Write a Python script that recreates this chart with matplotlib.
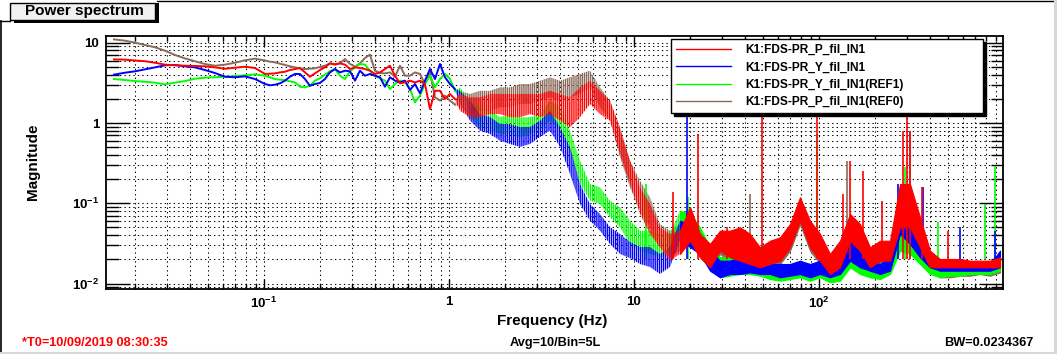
import matplotlib
matplotlib.use("Agg")
import matplotlib.pyplot as plt
from matplotlib.patches import Rectangle
from matplotlib.lines import Line2D
from matplotlib.ticker import FixedLocator, FixedFormatter, LogLocator, NullFormatter

plt.rcParams['font.family'] = ['Liberation Sans', 'DejaVu Sans']
plt.rcParams['font.weight'] = 'bold'
plt.rcParams['mathtext.fontset'] = 'custom'
plt.rcParams['mathtext.rm'] = 'Liberation Sans:bold'
plt.rcParams['mathtext.bf'] = 'Liberation Sans:bold'
plt.rcParams['mathtext.it'] = 'Liberation Sans:bold'
plt.rcParams['hatch.linewidth'] = 1.0

# ---------------- data ----------------
labels = ["K1:FDS-PR_P_fil_IN1", "K1:FDS-PR_Y_fil_IN1",
          "K1:FDS-PR_Y_fil_IN1(REF1)", "K1:FDS-PR_P_fil_IN1(REF0)"]
colors = ["#ff0000", "#0000ff", "#00ff00", "#8a6a5a"]

# low-frequency part (single traces)
freq_lf = [0.01546, 0.01772, 0.02008, 0.02274, 0.02575, 0.02917, 0.03303, 0.03741, 0.04237,
           0.04799, 0.05435, 0.06155, 0.06971, 0.07895, 0.0894, 0.1013, 0.1078, 0.1147, 0.1221,
           0.1299, 0.1382, 0.1471, 0.1565, 0.1666, 0.1772, 0.1886, 0.2007, 0.2136, 0.2274,
           0.2419, 0.2575, 0.2741, 0.2917, 0.3104, 0.3303, 0.3515, 0.3741, 0.3981, 0.4237,
           0.4508, 0.4798, 0.5106, 0.5434, 0.5782, 0.6154, 0.6549, 0.6969, 0.7416, 0.7896,
           0.8401, 0.8941, 0.9514, 1.0125, 1.0775]
red_lf = [6.2, 6.15, 6.0, 5.88, 5.63, 5.33, 5.23, 5.17, 5.13, 5.08, 4.93, 4.74, 4.88, 5.03, 4.84,
          4.08, 4.11, 4.15, 4.27, 4.35, 4.57, 4.7, 4.84, 4.27, 3.77, 4.15, 4.57, 4.93, 5.53, 5.33,
          5.53, 5.33, 4.7, 4.93, 4.84, 4.7, 4.48, 4.08, 4.27, 4.7, 5.17, 3.88, 3.12, 3.2, 3.37,
          3.2, 3.37, 3.06, 1.49, 2.52, 2.52, 1.99, 2.3, 1.99]
blue_lf = [4.0, 4.23, 4.4, 4.66, 4.93, 5.23, 5.28, 5.08, 4.93, 4.57, 4.19, 3.77, 3.71, 3.81, 3.53,
           3.06, 2.95, 3.0, 3.12, 3.37, 3.77, 4.08, 4.08, 3.53, 2.91, 3.06, 3.15, 3.53, 4.27, 4.7,
           4.27, 4.48, 4.4, 3.37, 4.48, 3.88, 4.08, 3.88, 3.71, 2.83, 3.71, 3.37, 3.2, 3.37, 2.58,
           3.06, 2.34, 3.37, 4.7, 3.53, 5.43, 3.71, 3.06, 2.65]
green_lf = [3.53, 3.43, 3.33, 3.26, 3.18, 3.03, 3.18, 3.33, 3.56, 3.67, 3.71, 3.77, 3.85, 3.93, 4.04,
            3.88, 3.71, 3.53, 3.46, 3.43, 3.3, 3.2, 2.83, 2.78, 2.91, 3.37, 3.6, 4.0, 4.4, 4.7,
            3.88, 3.53, 4.4, 4.93, 5.43, 5.33, 4.48, 3.88, 3.6, 3.37, 2.65, 3.06, 3.37, 3.3, 2.65,
            1.81, 2.19, 3.06, 3.88, 2.78, 3.53, 4.08, 3.53, 2.52]
brown_lf = [11.0, 10.6, 10.0, 9.36, 8.77, 7.95, 7.03, 6.38, 5.87, 5.43, 5.17, 5.33, 5.63, 6.04, 6.33,
            6.0, 5.8, 5.7, 5.47, 5.28, 5.08, 4.93, 4.8, 4.7, 4.74, 4.8, 4.98, 5.17, 5.53, 5.43,
            5.53, 6.27, 5.43, 5.03, 5.53, 6.45, 7.1, 4.48, 4.19, 4.15, 4.27, 3.77, 5.17, 3.88, 3.88,
            4.27, 4.08, 3.06, 4.27, 2.09, 1.9, 2.19, 1.9, 1.69]

# high-frequency part (noise band: lower / upper envelope)
freq_hf = [1.0775, 1.147, 1.299, 1.471, 1.666, 1.887, 2.137, 2.42, 2.741, 3.104, 3.516, 3.981,
           4.509, 5.107, 5.783, 6.55, 7.418, 8.401, 9.515, 10.78, 12.2, 13.82, 15.65, 17.73,
           20.08, 22.74, 25.75, 29.16, 33.03, 37.41, 42.37, 47.98, 54.34, 61.54, 69.7, 78.94,
           89.41, 101.3, 114.7, 129.9, 147.1, 166.6, 188.7, 213.7, 242.0, 274.1, 310.4, 351.6,
           398.1, 450.9, 510.7, 578.3, 655.0, 741.8, 840.1, 951.5]
red_hi = [1.99, 2.30, 2.09, 2.09, 2.30, 2.30, 2.30, 2.30, 2.30, 2.30, 2.52, 2.30, 2.09, 2.78, 3.36,
          2.52, 1.90, 0.884, 0.339, 0.158, 0.098, 0.0502, 0.0415, 0.0456, 0.0892, 0.0415, 0.0311,
          0.0456, 0.0456, 0.0502, 0.0415, 0.0283, 0.0342, 0.0377, 0.0552, 0.1188, 0.0607, 0.0415,
          0.0234, 0.0342, 0.0736, 0.0552, 0.0283, 0.0342, 0.0342, 0.174, 0.174, 0.067, 0.0257,
          0.02025, 0.02025, 0.02025, 0.0193, 0.0193, 0.0193, 0.02126]
red_lo = [1.99, 1.42, 1.18, 1.18, 1.29, 1.29, 1.18, 1.18, 1.29, 1.18, 1.29, 1.07, 0.884, 1.18, 1.72,
          1.29, 1.07, 0.411, 0.174, 0.0736, 0.0415, 0.0283, 0.0193, 0.0234, 0.0342, 0.02126,
          0.01596, 0.0257, 0.02126, 0.0193, 0.01754, 0.01596, 0.01754, 0.0193, 0.0283, 0.0607,
          0.0283, 0.0193, 0.01317, 0.01596, 0.0342, 0.0257, 0.01596, 0.0193, 0.0193, 0.0502,
          0.0502, 0.0283, 0.01596, 0.01596, 0.01596, 0.01596, 0.01596, 0.01596, 0.01596, 0.01596]
blue_hi = [2.65, 2.52, 1.90, 1.29, 1.19, 0.972, 0.972, 0.892, 0.892, 1.07, 1.42, 0.892, 0.503, 0.174,
           0.098, 0.0736, 0.0507, 0.0415, 0.033, 0.0286, 0.0286, 0.0234, 0.0286, 0.0607, 0.0552,
           0.0415, 0.0257, 0.0193, 0.0193, 0.02126, 0.02126, 0.0193, 0.01754, 0.01754, 0.01754,
           0.0193, 0.01754, 0.0193, 0.01596, 0.0193, 0.0342, 0.0283, 0.0193, 0.01754, 0.02126,
           0.1435, 0.0892, 0.0415, 0.0234, 0.0193, 0.0193, 0.01842, 0.01754, 0.01754, 0.01754, 0.0257]
blue_lo = [2.65, 1.72, 1.07, 0.802, 0.730, 0.602, 0.548, 0.503, 0.548, 0.669, 0.802, 0.503, 0.232,
           0.098, 0.0607, 0.0456, 0.0311, 0.0234, 0.0208, 0.01754, 0.0161, 0.01317, 0.0161, 0.0342,
           0.0286, 0.0234, 0.01447, 0.01198, 0.01317, 0.01317, 0.01382, 0.01317, 0.01317, 0.01198,
           0.01254, 0.01317, 0.01198, 0.01317, 0.01198, 0.01317, 0.0193, 0.01596, 0.01447, 0.01317,
           0.01447, 0.0415, 0.0311, 0.02126, 0.01596, 0.01447, 0.01447, 0.01447, 0.01447, 0.01447,
           0.01447, 0.01596]
green_hi = [2.52, 2.78, 1.90, 1.57, 1.42, 1.18, 1.29, 1.18, 1.18, 1.29, 1.90, 1.57, 0.802, 0.339,
            0.174, 0.158, 0.1077, 0.0892, 0.0607, 0.0456, 0.0456, 0.0415, 0.0415, 0.0809, 0.0736,
            0.0502, 0.0283, 0.02126, 0.02126, 0.0234, 0.02126, 0.0193, 0.01754, 0.0167, 0.01754,
            0.01842, 0.01754, 0.01754, 0.01447, 0.01596, 0.0283, 0.0234, 0.01596, 0.01596, 0.0193,
            0.0892, 0.0607, 0.0311, 0.0193, 0.01596, 0.01596, 0.01596, 0.01596, 0.0167, 0.01596, 0.0193]
green_lo = [2.52, 1.72, 1.18, 0.884, 0.802, 0.730, 0.730, 0.663, 0.730, 0.802, 1.07, 0.802, 0.452,
            0.174, 0.1077, 0.098, 0.067, 0.0502, 0.0311, 0.0257, 0.0234, 0.02126, 0.0234, 0.0415,
            0.0377, 0.0283, 0.01596, 0.01198, 0.01254, 0.01317, 0.01317, 0.01254, 0.01141, 0.01087,
            0.01141, 0.01198, 0.01087, 0.01198, 0.01038, 0.01087, 0.01596, 0.01317, 0.01198, 0.01141,
            0.01317, 0.0257, 0.0234, 0.01754, 0.01317, 0.01198, 0.01254, 0.01254, 0.01317, 0.01317,
            0.01317, 0.01447]
brown_hi = [1.69, 2.52, 2.30, 2.52, 2.52, 2.78, 2.78, 3.06, 3.06, 3.36, 3.71, 3.36, 3.71, 4.08, 4.48,
            2.78, 1.90, 0.802, 0.339, 0.191, 0.1188, 0.0552, 0.0456, 0.0552, 0.0892, 0.0415, 0.0311,
            0.0415, 0.0415, 0.0415, 0.0342, 0.0257, 0.0283, 0.0342, 0.0502, 0.098, 0.0502, 0.0342,
            0.02126, 0.0283, 0.0607, 0.0456, 0.0234, 0.0283, 0.0283, 0.158, 0.1435, 0.0502, 0.02126,
            0.01754, 0.01754, 0.01754, 0.0167, 0.01754, 0.0167, 0.0193]
brown_lo = [1.69, 1.57, 1.29, 1.42, 1.42, 1.57, 1.57, 1.72, 1.72, 1.90, 2.09, 1.90, 2.09, 2.30, 2.78,
            1.57, 1.07, 0.374, 0.158, 0.0809, 0.0502, 0.0283, 0.02126, 0.0257, 0.0342, 0.02126,
            0.01596, 0.0234, 0.0193, 0.01754, 0.01596, 0.01447, 0.01596, 0.01754, 0.0257, 0.0552,
            0.0257, 0.01754, 0.01317, 0.01447, 0.0311, 0.0234, 0.01447, 0.01596, 0.01754, 0.0456,
            0.0415, 0.0234, 0.01447, 0.01198, 0.01198, 0.01254, 0.01254, 0.01317, 0.01254, 0.01382]

# narrow spectral lines (frequency, peak magnitude)
red_spike_f = [16.19, 22.18, 31.82, 49.19, 97.2, 134.8, 147.1, 172.9, 219.0, 284.6, 299.1, 310.4, 360.5, 498.2]
red_spike_v = [0.137, 0.730, 0.0507, 1.49, 1.29, 0.130, 0.339, 0.255, 0.1077, 0.802, 1.49, 0.802, 0.158, 0.0456]
blue_spike_f = [19.42, 267.3, 364.9, 578.3, 894.1]
blue_spike_v = [2.0, 0.174, 0.16, 0.0507, 0.0456]
green_spike_f = [11.61, 19.59, 97.5, 291.6, 439.8, 789.5, 894.1]
green_spike_v = [0.174, 0.1188, 0.730, 0.281, 0.058, 0.098, 0.294]
brown_spike_f = [42.37, 141.7, 310.4]
brown_spike_v = [0.130, 0.339, 0.802]

x_ticks = [0.1, 1, 10, 100]
x_ticklabels = [r'$10^{-1}$', '1', '10', r'$10^{2}$']
y_ticks = [0.01, 0.1, 1, 10]
y_ticklabels = [r'$10^{-2}$', r'$10^{-1}$', '1', '10']

# ---------------- figure ----------------
W, H = 1057, 354
fig = plt.figure(figsize=(W / 100, H / 100), dpi=100)
fig.patch.set_facecolor('white')


def fx(x):
    return x / W


def fy(y):
    return 1 - y / H


ax = fig.add_axes([fx(106), fy(289), (1003 - 106) / W, (289 - 36) / H])
ax.set_xscale('log')
ax.set_yscale('log')
ax.set_xlim(0.0140, 987.6)
ax.set_ylim(0.008566, 12.12)

SPLIT = 23  # below ~18 Hz the noise is sparse (hatched), above it is dense (solid)
series = [
    (brown_lf, brown_lo, brown_hi, brown_spike_f, brown_spike_v, colors[3]),
    (green_lf, green_lo, green_hi, green_spike_f, green_spike_v, colors[2]),
    (blue_lf, blue_lo, blue_hi, blue_spike_f, blue_spike_v, colors[1]),
    (red_lf, red_lo, red_hi, red_spike_f, red_spike_v, colors[0]),
]
for lf, lo, hi, sf, sv, c in series:
    ax.vlines(sf, 0.02, sv, colors=c, linewidth=1.2, zorder=2)
    ax.fill_between(freq_hf[:SPLIT + 1], lo[:SPLIT + 1], hi[:SPLIT + 1], facecolor='none',
                    edgecolor=c, linewidth=0, hatch='||||||||', zorder=2)
    ax.fill_between(freq_hf[SPLIT:], lo[SPLIT:], hi[SPLIT:], facecolor=c,
                    edgecolor=c, linewidth=0.8, zorder=2)
    ax.plot(freq_lf, lf, color=c, linewidth=1.4, zorder=2)

# grid & ticks
ax.grid(True, which='both', color='black', linestyle=(0, (1.3, 3)), linewidth=0.75, zorder=1)
ax.set_axisbelow(True)
ax.xaxis.set_major_locator(FixedLocator(x_ticks))
ax.xaxis.set_major_formatter(FixedFormatter(x_ticklabels))
ax.xaxis.set_minor_locator(LogLocator(base=10, subs=[2, 3, 4, 5, 6, 7, 8, 9], numticks=20))
ax.xaxis.set_minor_formatter(NullFormatter())
ax.yaxis.set_major_locator(FixedLocator(y_ticks))
ax.yaxis.set_major_formatter(FixedFormatter(y_ticklabels))
ax.yaxis.set_minor_locator(LogLocator(base=10, subs=[2, 3, 4, 5, 6, 7, 8, 9], numticks=20))
ax.yaxis.set_minor_formatter(NullFormatter())
ax.tick_params(which='both', direction='in', top=True, right=True, color='black', width=1.0)
ax.tick_params(axis='y', which='major', length=17.5, pad=5, labelsize=9.5)
ax.tick_params(axis='y', which='minor', length=9)
ax.tick_params(axis='x', which='major', length=7.5, pad=5, labelsize=9.5)
ax.tick_params(axis='x', which='minor', length=3.8)
for s in ax.spines.values():
    s.set_linewidth(1.3)
    s.set_color('black')

ax.set_xlabel('Frequency (Hz)', fontsize=11, fontweight='bold')
ax.xaxis.set_label_coords((552 - 106) / 897, (289 - 314) / 253)
ax.set_ylabel('Magnitude', fontsize=11, fontweight='bold')
ax.yaxis.set_label_coords((40 - 106) / 897, (289 - 162) / 253)

# legend
handles = [Line2D([], [], color=c, linewidth=1.0) for c in colors]
leg = ax.legend(handles, labels, loc='upper left',
                bbox_to_anchor=(fx(671), fy(43), (983 - 671) / W, 0.01),
                bbox_transform=fig.transFigure, mode='expand', borderaxespad=0,
                fancybox=False, framealpha=1, edgecolor='black',
                shadow={'color': 'black', 'alpha': 1.0},
                prop={'family': 'Liberation Sans', 'weight': 'bold', 'size': 8.6},
                handlelength=4.6, handletextpad=1.2, labelspacing=0.45, borderpad=0.4)
leg.get_frame().set_linewidth(1.0)
leg.set_zorder(5)

# title box
fig.add_artist(Rectangle((fx(13.5), fy(23)), (145) / W, (20) / H, transform=fig.transFigure,
                         facecolor='black', edgecolor='none'))
fig.add_artist(Rectangle((fx(10), fy(19.5)), (145) / W, (16.5) / H, transform=fig.transFigure,
                         facecolor='#f0f0f0', edgecolor='black', linewidth=1.0))
fig.text(fx(84), fy(11.5), 'Power spectrum', ha='center', va='center', fontsize=11,
         fontweight='bold', color='black')

# canvas borders
fig.add_artist(Line2D([fx(0), fx(10)], [fy(20.5), fy(20.5)], color='black', linewidth=1.0,
                      transform=fig.transFigure))
fig.add_artist(Line2D([fx(157), fx(1053)], [fy(0.5), fy(0.5)], color='black', linewidth=1.0,
                      transform=fig.transFigure))
fig.add_artist(Line2D([fx(0.7), fx(0.7)], [fy(20.5), fy(352)], color='black', linewidth=1.2,
                      transform=fig.transFigure))
fig.add_artist(Line2D([fx(1055), fx(1055)], [fy(0), fy(353)], color='#d8d8d8', linewidth=2.2,
                      transform=fig.transFigure))
fig.add_artist(Line2D([fx(0), fx(1056)], [fy(352.5), fy(352.5)], color='#d8d8d8', linewidth=2.2,
                      transform=fig.transFigure))

# footer texts
fig.text(fx(22), fy(343), '*T0=10/09/2019 08:30:35', ha='left', va='center', fontsize=9.2,
         fontweight='bold', color='#ff0000')
fig.text(fx(555), fy(343), 'Avg=10/Bin=5L', ha='center', va='center', fontsize=9.2,
         fontweight='bold', color='black')
fig.text(fx(1033), fy(343), 'BW=0.0234367', ha='right', va='center', fontsize=9.2,
         fontweight='bold', color='black')

fig.savefig('out.png', dpi=100)
